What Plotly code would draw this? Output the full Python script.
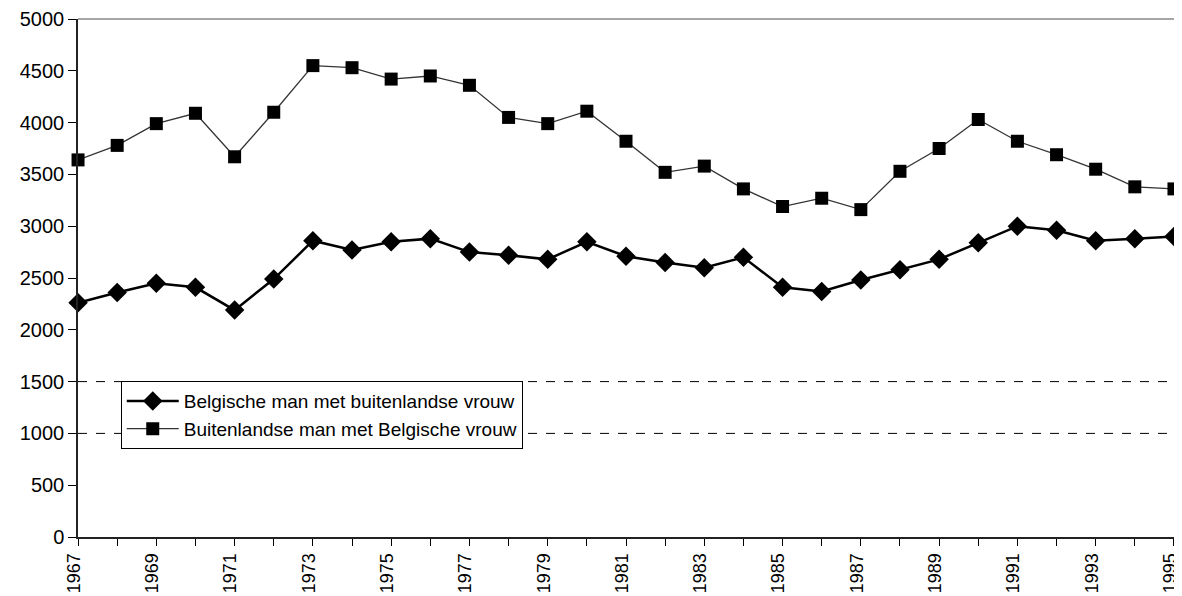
import plotly.graph_objects as go

years = list(range(1967, 1996))
belg_man = [2260, 2360, 2450, 2410, 2190, 2490, 2860, 2770, 2850, 2880,
            2750, 2720, 2680, 2850, 2710, 2650, 2600, 2700, 2410, 2370,
            2480, 2580, 2680, 2840, 3000, 2960, 2860, 2880, 2900]
buit_man = [3640, 3780, 3990, 4090, 3670, 4100, 4550, 4530, 4420, 4450,
            4360, 4050, 3990, 4110, 3820, 3520, 3580, 3360, 3190, 3270,
            3160, 3530, 3750, 4030, 3820, 3690, 3550, 3380, 3360]
names = ["Belgische man met buitenlandse vrouw", "Buitenlandse man met Belgische vrouw"]
y_ticks = list(range(0, 5001, 500))
x_ticktext = [str(y) if (y - 1967) % 2 == 0 else "" for y in years]
dashed_levels = [1000, 1500]

fig = go.Figure()
fig.add_trace(go.Scatter(
    x=years, y=belg_man, name=names[0], mode="lines+markers",
    line=dict(color="black", width=2.5),
    marker=dict(symbol="diamond", size=15, color="black"),
    cliponaxis=False,
))
fig.add_trace(go.Scatter(
    x=years, y=buit_man, name=names[1], mode="lines+markers",
    line=dict(color="#333333", width=1.3),
    marker=dict(symbol="square", size=13, color="black"),
    cliponaxis=False,
))

for lv in dashed_levels:
    fig.add_shape(type="line", xref="paper", x0=0, x1=1, yref="y", y0=lv, y1=lv,
                  line=dict(color="black", width=1, dash="dash"), layer="below")
fig.add_shape(type="line", xref="paper", x0=0, x1=1, yref="paper", y0=1, y1=1,
              line=dict(color="#888888", width=1.5))

# the page body has an 8px margin, so the figure is sized/placed to compensate
fig.update_layout(
    width=1174, height=588,
    margin=dict(l=70, r=8, t=11, b=59, autoexpand=False),
    plot_bgcolor="white", paper_bgcolor="white",
    font=dict(family="Liberation Sans, Arial, sans-serif", size=20, color="black"),
    showlegend=True,
    legend=dict(
        x=0.039, y=0.301, xanchor="left", yanchor="top",
        bgcolor="white", bordercolor="black", borderwidth=1,
        font=dict(size=19), itemwidth=52, tracegroupgap=0,
    ),
    xaxis=dict(
        range=[1966.999, 1995.001], tickmode="array", tickvals=years, ticktext=x_ticktext,
        tickangle=-90, ticks="outside", ticklen=7, tickcolor="black",
        tickfont=dict(size=18), ticklabeloverflow="allow", ticklabelshift=-4,
        showline=True, linecolor="#222222", linewidth=2, showgrid=False, zeroline=False,
        automargin=False,
    ),
    yaxis=dict(
        range=[0, 5000], tickmode="array", tickvals=y_ticks,
        ticks="outside", ticklen=8, tickcolor="black",
        showline=True, linecolor="#222222", linewidth=1.5, mirror=True,
        showgrid=False, zeroline=False, automargin=False,
    ),
)

fig.write_html("out.html")
